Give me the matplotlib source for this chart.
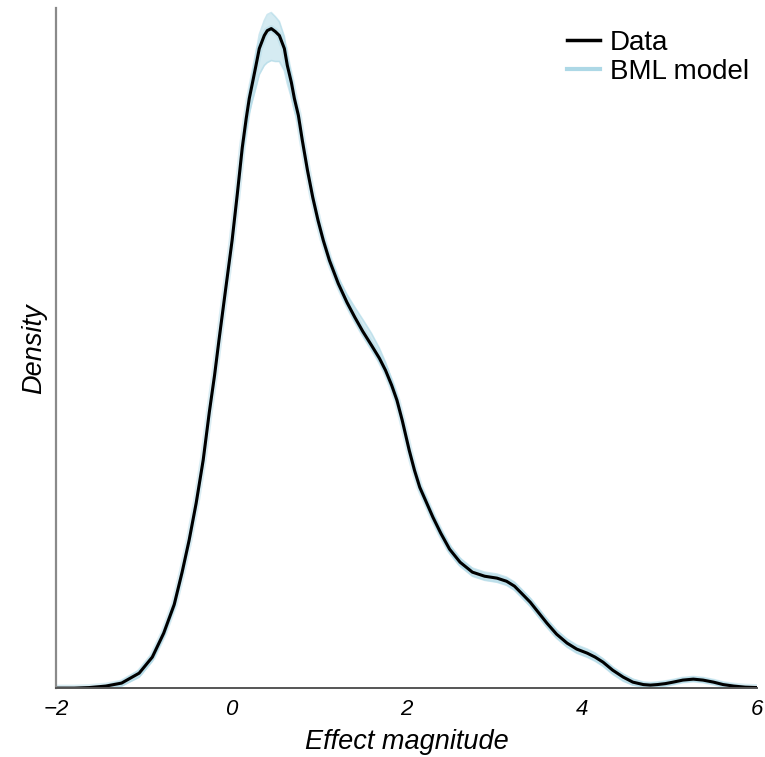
import matplotlib
matplotlib.use("Agg")
import matplotlib.pyplot as plt
from matplotlib.lines import Line2D

# Effect magnitude grid
effect = [-2.00, -1.79, -1.62, -1.43, -1.25, -1.05, -0.90, -0.77, -0.65, -0.56,
          -0.48, -0.40, -0.32, -0.25, -0.19, -0.14,
          -0.07, 0.01, 0.07, 0.126, 0.171, 0.206, 0.243, 0.282, 0.32, 0.377, 0.411, 0.457,
          0.503, 0.549, 0.606, 0.64, 0.686, 0.72, 0.766, 0.811,
          0.87, 0.93, 0.99, 1.05, 1.12, 1.22, 1.32, 1.41, 1.50, 1.60,
          1.69, 1.76, 1.83, 1.89, 1.95, 2.03, 2.09, 2.15, 2.23, 2.30,
          2.39, 2.49, 2.61, 2.75, 2.89, 3.03, 3.14, 3.23, 3.31, 3.41,
          3.50, 3.60, 3.71, 3.83, 3.94, 4.06, 4.15, 4.24, 4.35, 4.47,
          4.58, 4.70, 4.78, 4.86, 4.95, 5.04, 5.15, 5.27, 5.38, 5.50,
          5.61, 5.73, 5.86, 6.00]

# Observed data density
data_density = [0, 0, 0.0004, 0.0015, 0.0037, 0.011, 0.0228, 0.0404, 0.0615, 0.0853,
                0.1088, 0.136, 0.1676, 0.2029, 0.2301, 0.2558,
                0.2903, 0.3293, 0.3638, 0.3976, 0.419, 0.4337, 0.4454, 0.4579, 0.4704, 0.48, 0.4836, 0.4851,
                0.4829, 0.48, 0.4704, 0.4579, 0.4454, 0.4337, 0.4212, 0.4028,
                0.3807, 0.3609, 0.344, 0.3293, 0.3146, 0.2977, 0.2837, 0.2727, 0.2624, 0.2521,
                0.2426, 0.2337, 0.2227, 0.2117, 0.197, 0.1749, 0.1602, 0.1477, 0.136, 0.1257,
                0.1139, 0.1022, 0.0926, 0.0853, 0.0823, 0.0809, 0.0786, 0.075, 0.0698, 0.0632,
                0.0559, 0.0478, 0.0397, 0.0331, 0.0287, 0.0257, 0.0228, 0.0191, 0.0132, 0.0081,
                0.0044, 0.0026, 0.0022, 0.0026, 0.0033, 0.0044, 0.0059, 0.0066, 0.0059, 0.0044,
                0.0026, 0.0015, 0.0007, 0.0004]

# BML model posterior draws: spread above / below the data curve
model_up = [0, 0, 0.0004, 0.0007, 0.0015, 0.0022, 0.0022, 0.0022, 0.0022, 0.0022,
            0.0022, 0.0022, 0.0022, 0.0022, 0.0022, 0.0022,
            0.0022, 0.0022, 0.003, 0.0037, 0.0044, 0.0059, 0.0074, 0.0088, 0.0103, 0.011, 0.0118, 0.0118,
            0.011, 0.0103, 0.0088, 0.0074, 0.0059, 0.0044, 0.0037, 0.003,
            0.003, 0.003, 0.003, 0.003, 0.0037, 0.0044, 0.0059, 0.0074, 0.0088, 0.0088,
            0.0074, 0.0059, 0.0044, 0.0037, 0.003, 0.003, 0.003, 0.003, 0.003, 0.003,
            0.003, 0.003, 0.003, 0.003, 0.003, 0.003, 0.003, 0.003, 0.003, 0.003,
            0.003, 0.003, 0.003, 0.003, 0.003, 0.003, 0.003, 0.0025, 0.0022, 0.0022,
            0.0022, 0.0015, 0.0015, 0.0015, 0.0015, 0.0015, 0.0015, 0.0015, 0.0015, 0.0015,
            0.0015, 0.0011, 0.0007, 0.0004]
model_down = [0, 0, 0.0004, 0.0011, 0.0022, 0.003, 0.003, 0.003, 0.003, 0.003,
              0.003, 0.003, 0.003, 0.003, 0.003, 0.003,
              0.003, 0.003, 0.0044, 0.0066, 0.0088, 0.011, 0.0132, 0.0162, 0.0191, 0.022, 0.0235, 0.0235,
              0.022, 0.0191, 0.0162, 0.0132, 0.011, 0.0088, 0.0066, 0.0044,
              0.003, 0.003, 0.003, 0.003, 0.003, 0.003, 0.003, 0.003, 0.003, 0.003,
              0.003, 0.003, 0.003, 0.003, 0.003, 0.003, 0.003, 0.003, 0.003, 0.003,
              0.003, 0.003, 0.003, 0.003, 0.003, 0.003, 0.003, 0.003, 0.003, 0.003,
              0.003, 0.003, 0.003, 0.003, 0.003, 0.003, 0.003, 0.003, 0.003, 0.003,
              0.0022, 0.0015, 0.0015, 0.0015, 0.0015, 0.0015, 0.0015, 0.0015, 0.0015, 0.0015,
              0.0015, 0.0011, 0.0007, 0.0004]

xticks = [-2, 0, 2, 4, 6]
xtick_labels = ["\u22122", "0", "2", "4", "6"]

model_hi = [d + u for d, u in zip(data_density, model_up)]
model_lo = [max(0.0, d - w) for d, w in zip(data_density, model_down)]

plt.rcParams['font.family'] = ['Liberation Sans', 'DejaVu Sans']

fig = plt.figure(figsize=(7.65, 7.57), dpi=100)
ax = fig.add_axes([0.073, 0.091, 0.917, 0.898])

blue = '#add8e6'
ax.fill_between(effect, model_lo, model_hi, color=blue, alpha=0.5, lw=0)
ax.plot(effect, model_hi, color=blue, lw=1.2, alpha=0.6)
ax.plot(effect, model_lo, color=blue, lw=1.2, alpha=0.6)
ax.plot(effect, data_density, color=blue, lw=5, alpha=0.45, solid_capstyle='round')
ax.plot(effect, data_density, color='black', lw=2.2, solid_joinstyle='round')

ax.set_xlim(-2, 6)
ax.set_ylim(0, 0.5)
ax.set_xticks(xticks)
ax.set_xticklabels(xtick_labels, fontsize=16, style='italic')
ax.set_yticks([])
ax.tick_params(axis='x', length=0, pad=8)
for s in ['top', 'right']:
    ax.spines[s].set_visible(False)
ax.spines['left'].set_color('#8a8a8a')
ax.spines['left'].set_linewidth(1.6)
ax.spines['bottom'].set_color('#555555')
ax.spines['bottom'].set_linewidth(1.4)

ax.set_xlabel('Effect magnitude', fontsize=19.5, style='italic', labelpad=6)
ax.set_ylabel('Density', fontsize=19.5, style='italic', labelpad=6.5)

handles = [Line2D([0], [0], color='black', lw=2.5),
           Line2D([0], [0], color=blue, lw=3)]
ax.legend(handles, ['Data', 'BML model'], loc='upper right', frameon=False,
          fontsize=20, handlelength=1.2, handletextpad=0.35, labelspacing=0.12,
          borderpad=0.1, borderaxespad=0.2, bbox_to_anchor=(1.0, 0.981))

fig.savefig('out.png', dpi=100)
